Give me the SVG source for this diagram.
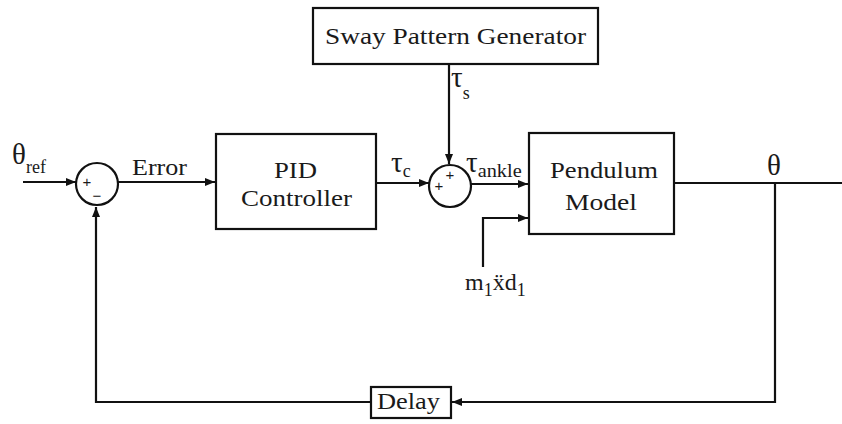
<svg xmlns="http://www.w3.org/2000/svg" width="842" height="424" viewBox="0 0 842 424">
<defs>
<marker id="ah" viewBox="0 0 10 8" refX="10" refY="4" markerWidth="10" markerHeight="8" markerUnits="userSpaceOnUse" orient="auto">
<path d="M0,0 L10,4 L0,8 z" fill="#111"/>
</marker>
<style>
.box{fill:#fff;stroke:#111;stroke-width:2.2}
.ln{fill:none;stroke:#111;stroke-width:2.2}
text{font-family:'Liberation Serif','Times New Roman',serif;fill:#1a1a1a}
.t{font-size:24px}
.g{font-size:29px}
.s{font-size:18px}
.sg{font-family:'Liberation Sans',Arial,sans-serif;font-size:15px}
</style>
</defs>
<rect width="842" height="424" fill="#fff"/>
<g id="connectors">
<line class="ln" x1="23" y1="182" x2="76" y2="182" marker-end="url(#ah)"/>
<line class="ln" x1="118" y1="182" x2="215" y2="182" marker-end="url(#ah)"/>
<line class="ln" x1="376" y1="183" x2="429" y2="183" marker-end="url(#ah)"/>
<line class="ln" x1="449" y1="64" x2="449" y2="164" marker-end="url(#ah)"/>
<line class="ln" x1="471" y1="184" x2="528" y2="184" marker-end="url(#ah)"/>
<polyline class="ln" points="483,267 483,218 528,218" marker-end="url(#ah)"/>
<line class="ln" x1="674" y1="183" x2="842" y2="183"/>
<polyline class="ln" points="775,183 775,402 452,402" marker-end="url(#ah)"/>
<polyline class="ln" points="370,402 96,402 96,207" marker-end="url(#ah)"/>
</g>
<g id="sway">
<rect class="box" x="313" y="8" width="285" height="56"/>
<text class="t" x="325" y="44" textLength="261" lengthAdjust="spacingAndGlyphs">Sway Pattern Generator</text>
</g>
<g id="sum1">
<circle class="box" cx="97" cy="184" r="21"/>
<text class="sg" x="87" y="187" text-anchor="middle">+</text>
<text class="sg" x="97" y="201" text-anchor="middle">−</text>
</g>
<g id="pid">
<rect class="box" x="216" y="134" width="160" height="95"/>
<text class="t" x="274" y="178" textLength="43" lengthAdjust="spacingAndGlyphs">PID</text>
<text class="t" x="241" y="206" textLength="111" lengthAdjust="spacingAndGlyphs">Controller</text>
</g>
<g id="sum2">
<circle class="box" cx="450" cy="186" r="21"/>
<text class="sg" x="439" y="191" text-anchor="middle">+</text>
<text class="sg" x="450" y="180" text-anchor="middle">+</text>
</g>
<g id="pendulum">
<rect class="box" x="529" y="133" width="145" height="101"/>
<text class="t" x="550" y="178" textLength="108" lengthAdjust="spacingAndGlyphs">Pendulum</text>
<text class="t" x="565" y="210" textLength="72" lengthAdjust="spacingAndGlyphs">Model</text>
</g>
<g id="delay">
<rect class="box" x="371" y="387" width="80" height="31"/>
<text class="t" x="377" y="409" textLength="63" lengthAdjust="spacingAndGlyphs">Delay</text>
</g>
<g id="labels">
<text class="g" x="12" y="164">θ<tspan class="s" dy="9">ref</tspan></text>
<text class="t" x="132" y="175" textLength="55" lengthAdjust="spacingAndGlyphs">Error</text>
<text class="g" x="391" y="172">τ<tspan class="s" dy="5">c</tspan></text>
<text class="g" x="466" y="172">τ<tspan class="s" dy="5" textLength="44" lengthAdjust="spacingAndGlyphs">ankle</tspan></text>
<text class="g" x="451" y="87">τ<tspan class="s" dy="12">s</tspan></text>
<text class="g" x="767" y="175">θ</text>
<text class="t" x="465" y="290">m<tspan class="s" dy="6">1</tspan><tspan dy="-6">ẍ</tspan>d<tspan class="s" dy="6">1</tspan></text>
</g>
</svg>
